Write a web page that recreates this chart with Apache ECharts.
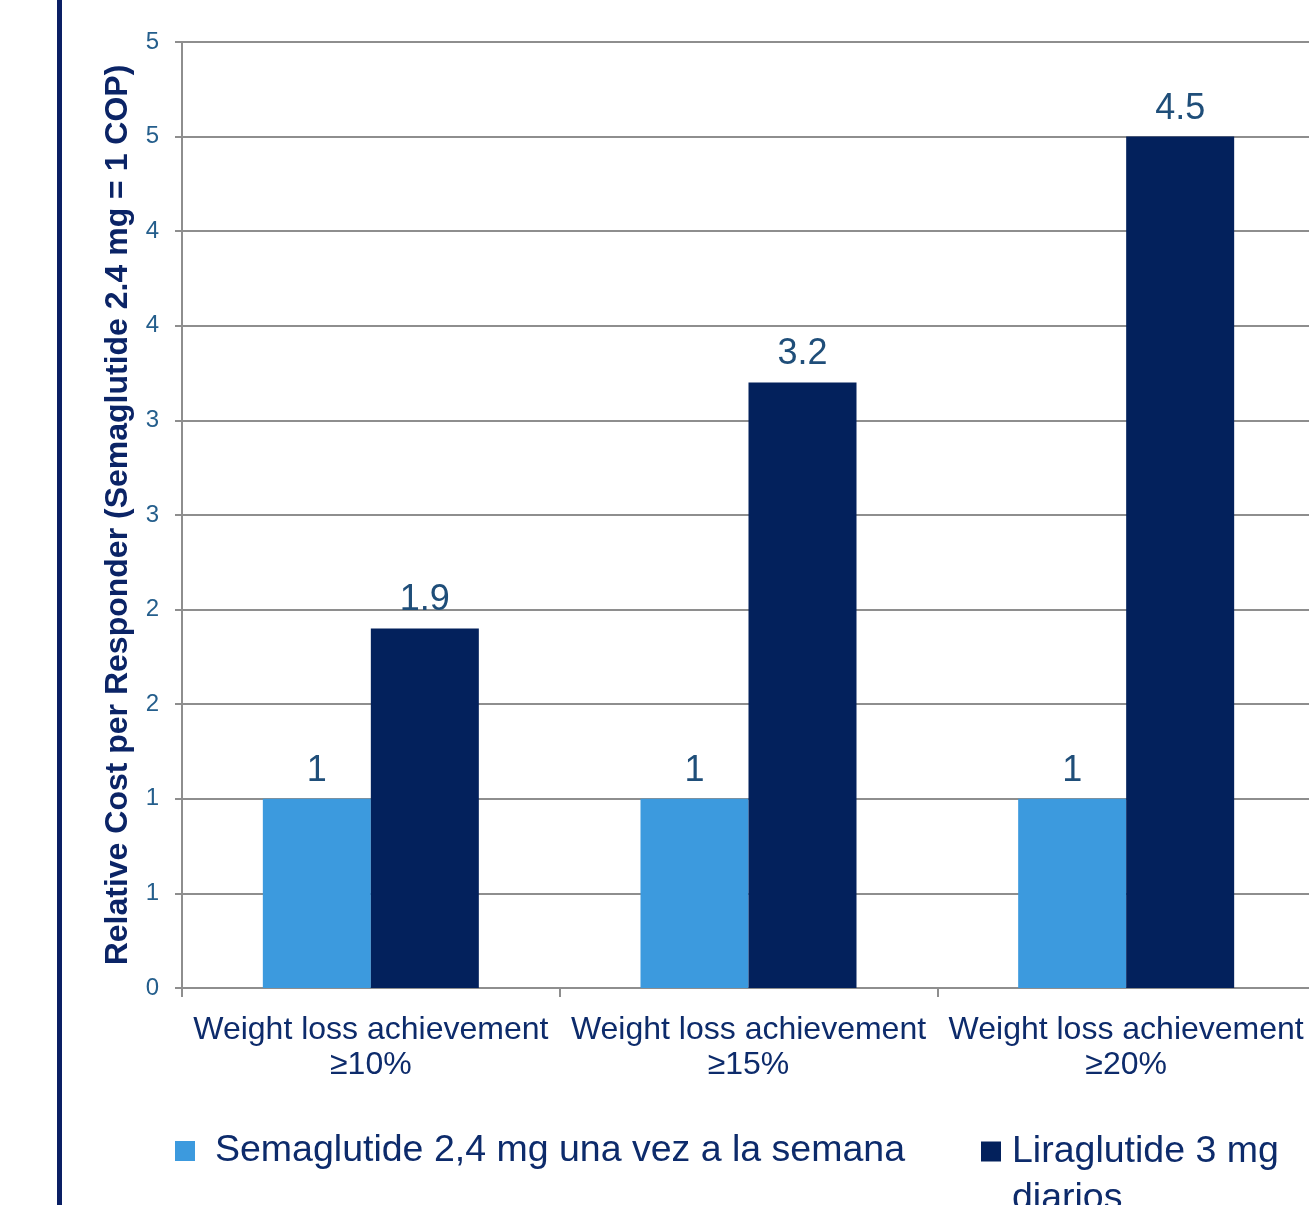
<!DOCTYPE html>
<html>
<head>
<meta charset="utf-8">
<script src="https://cdn.jsdelivr.net/npm/echarts@6/dist/echarts.min.js"></script>
<style>
  html, body { margin: 0; padding: 0; background: #ffffff; overflow: hidden; }
  #chart { width: 1320px; height: 1205px; }
</style>
</head>
<body>
<div id="chart"></div>
<script>
// Categories and series values
const categories = ['Weight loss achievement\n≥10%', 'Weight loss achievement\n≥15%', 'Weight loss achievement\n≥20%'];
const semaglutideName = 'Semaglutide 2,4 mg una vez a la semana';
const liraglutideName = 'Liraglutide 3 mg diarios';
const semaglutideValues = [1, 1, 1];
const liraglutideValues = [1.9, 3.2, 4.5];
// Y axis tick labels (ticks every 0.5, shown rounded)
const yTickLabels = ['0', '1', '1', '2', '2', '3', '3', '4', '4', '5', '5'];
const yAxisTitle = 'Relative Cost per Responder (Semaglutide 2.4 mg = 1 COP)';

const FONT = '"Liberation Sans", Arial, sans-serif';
const GRID_GRAY = '#8e8e8e';
const NAVY_TEXT = '#0d2b6b';
const LABEL_BLUE = '#1f4e79';

const chart = echarts.init(document.getElementById('chart'), null, { renderer: 'canvas' });

chart.setOption({
  animation: false,
  backgroundColor: '#ffffff',
  textStyle: { fontFamily: FONT },
  graphic: [{
    type: 'rect',
    left: 57, top: 0,
    shape: { width: 5, height: 1205 },
    style: { fill: '#0a1f64' },
    silent: true
  }],
  grid: { left: 182, top: 42, width: 1133, height: 946, containLabel: false },
  legend: [{
    data: [semaglutideName],
    left: 170, top: 1127,
    padding: 5,
    itemWidth: 20, itemHeight: 20,
    icon: 'rect',
    textStyle: { fontSize: 37.5, color: NAVY_TEXT, fontFamily: FONT, padding: [0, 0, 0, 15] }
  }, {
    data: [liraglutideName],
    left: 976, top: 1076,
    padding: 5,
    itemWidth: 20, itemHeight: 20,
    icon: 'rect',
    // leading empty line keeps the marker level with the first text line
    formatter: () => '\nLiraglutide 3 mg\ndiarios',
    textStyle: { fontSize: 37.5, lineHeight: 47, color: NAVY_TEXT, fontFamily: FONT, padding: [0, 0, 0, 6] }
  }],
  xAxis: {
    type: 'category',
    data: categories,
    axisLine: { show: true, lineStyle: { color: GRID_GRAY, width: 2 } },
    axisTick: { show: true, length: 9, alignWithLabel: false, lineStyle: { color: GRID_GRAY, width: 2 } },
    axisLabel: { fontSize: 32, lineHeight: 35, color: NAVY_TEXT, margin: 25, fontFamily: FONT, interval: 0 }
  },
  yAxis: {
    type: 'value',
    min: 0, max: 5, interval: 0.5,
    name: yAxisTitle,
    nameLocation: 'middle',
    nameRotate: 90,
    nameGap: 48,
    nameTextStyle: { fontSize: 32, fontWeight: 'bold', color: '#0b2466', fontFamily: FONT },
    axisLine: { show: true, lineStyle: { color: GRID_GRAY, width: 2 } },
    axisTick: { show: true, length: 7, lineStyle: { color: GRID_GRAY, width: 2 } },
    axisLabel: {
      fontSize: 24, color: '#245e8c', margin: 23, fontFamily: FONT,
      formatter: (v, i) => yTickLabels[i]
    },
    splitLine: { show: true, lineStyle: { color: GRID_GRAY, width: 2 } }
  },
  series: [{
    name: semaglutideName,
    type: 'bar',
    data: semaglutideValues,
    barWidth: 108,
    barGap: '0%',
    itemStyle: { color: '#3c9ade' },
    label: { show: true, position: 'top', distance: 10, fontSize: 36, color: LABEL_BLUE, fontFamily: FONT }
  }, {
    name: liraglutideName,
    type: 'bar',
    data: liraglutideValues,
    barWidth: 108,
    barGap: '0%',
    itemStyle: { color: '#03215c' },
    label: { show: true, position: 'top', distance: 10, fontSize: 36, color: LABEL_BLUE, fontFamily: FONT }
  }]
});
</script>
</body>
</html>
